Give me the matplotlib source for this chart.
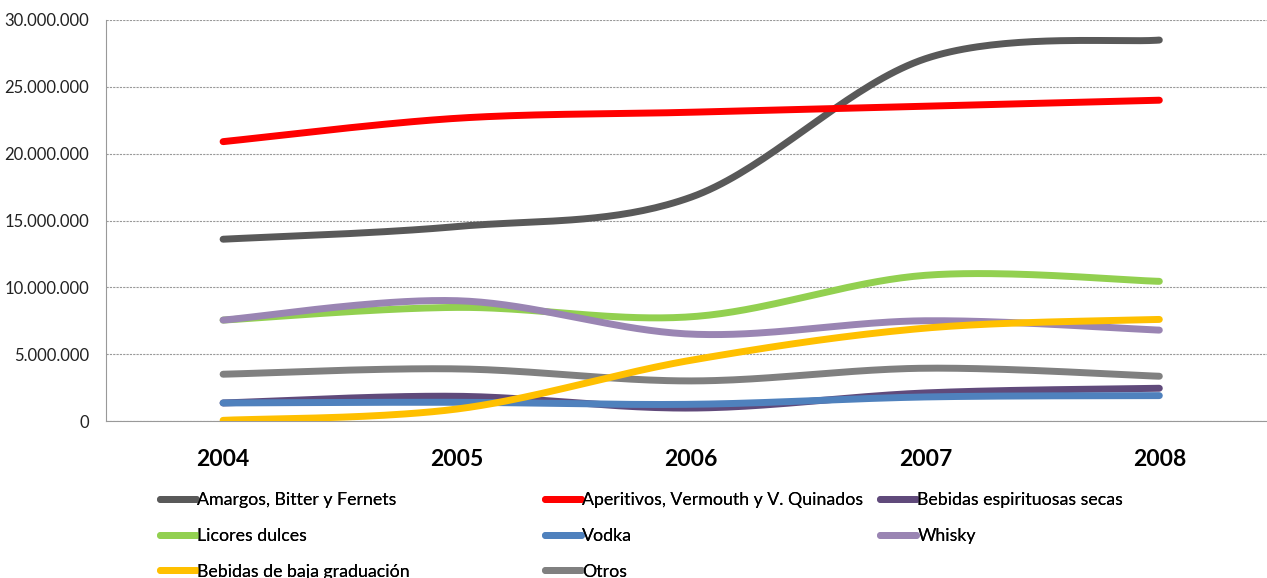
import matplotlib.pyplot as plt
import numpy as np
from matplotlib.ticker import FuncFormatter

years = ["2004", "2005", "2006", "2007", "2008"]

amargos = [13.6e6, 14.55e6, 16.75e6, 27.1e6, 28.5e6]
aperitivos = [20.9e6, 22.65e6, 23.1e6, 23.55e6, 24.0e6]
espirituosas = [1.35e6, 1.85e6, 0.97e6, 2.1e6, 2.45e6]
licores = [7.55e6, 8.5e6, 7.8e6, 10.9e6, 10.45e6]
vodka = [1.35e6, 1.4e6, 1.25e6, 1.8e6, 1.9e6]
whisky = [7.55e6, 9.0e6, 6.5e6, 7.5e6, 6.8e6]
baja = [0.05e6, 0.9e6, 4.55e6, 6.95e6, 7.6e6]
otros = [3.5e6, 3.9e6, 3.0e6, 3.95e6, 3.35e6]

series = [
    ("Amargos, Bitter y Fernets", amargos, "#595959", 2),
    ("Aperitivos, Vermouth y V. Quinados", aperitivos, "#FF0000", 3),
    ("Bebidas espirituosas secas", espirituosas, "#604A7B", 2),
    ("Licores dulces", licores, "#92D050", 2),
    ("Vodka", vodka, "#4F81BD", 3),
    ("Whisky", whisky, "#9A85B3", 3),
    ("Bebidas de baja graduación", baja, "#FFC000", 5),
    ("Otros", otros, "#808080", 4),
]


def smooth(y, n=40):
    # excel-like smoothed line (catmull-rom bezier)
    y = np.asarray(y, dtype=float)
    x = np.arange(len(y), dtype=float)
    px = np.concatenate([[x[0]], x, [x[-1]]])
    py = np.concatenate([[y[0]], y, [y[-1]]])
    xs, ys = [], []
    t = np.linspace(0, 1, n)
    for i in range(len(y) - 1):
        p0x, p1x, p2x, p3x = px[i], px[i + 1], px[i + 2], px[i + 3]
        p0y, p1y, p2y, p3y = py[i], py[i + 1], py[i + 2], py[i + 3]
        c1x, c1y = p1x + (p2x - p0x) / 6, p1y + (p2y - p0y) / 6
        c2x, c2y = p2x - (p3x - p1x) / 6, p2y - (p3y - p1y) / 6
        b = [(1 - t) ** 3, 3 * (1 - t) ** 2 * t, 3 * (1 - t) * t ** 2, t ** 3]
        xs.append(b[0] * p1x + b[1] * c1x + b[2] * c2x + b[3] * p2x)
        ys.append(b[0] * p1y + b[1] * c1y + b[2] * c2y + b[3] * p2y)
    return np.concatenate(xs), np.concatenate(ys)


plt.rcParams['font.family'] = ['Lato', 'DejaVu Sans']

fig = plt.figure(figsize=(12.67, 5.78), dpi=100)
ax = fig.add_axes([0.0837, 0.2716, 0.9163, 0.6938])

lines = []
for label, vals, color, z in series:
    sx, sy = smooth(vals)
    ln, = ax.plot(sx, sy, color=color, lw=5, solid_capstyle='round', label=label, zorder=z)
    lines.append(ln)

ax.set_xlim(-0.5, 4.46)
ax.set_ylim(0, 30e6)
ax.set_yticks(np.arange(0, 30e6 + 1, 5e6))
ax.yaxis.set_major_formatter(FuncFormatter(lambda v, p: f"{int(v):,}".replace(",", ".")))
ax.set_xticks(range(len(years)))
ax.set_xticklabels(years, fontsize=16.5, fontweight='bold')
ax.tick_params(axis='y', length=0, labelsize=12, pad=12, colors='#222222')
ax.tick_params(axis='x', length=0, pad=20)
ax.grid(axis='y', color='#999999', linestyle=(0, (2, 1)), lw=0.8)
ax.set_axisbelow(True)
for s in ['top', 'right']:
    ax.spines[s].set_visible(False)
ax.spines['left'].set_color('#999999')
ax.spines['bottom'].set_color('#999999')

# three legend columns, filled row by row like the original
col_x = [160, 545, 880]
for c in range(3):
    hs = lines[c::3]
    leg = fig.legend(hs, [h.get_label() for h in hs], loc='upper left',
                     bbox_to_anchor=(col_x[c] / 1267, 0.148), frameon=False,
                     fontsize=12.8, handlelength=2.0, handletextpad=0.1,
                     labelspacing=1.1, borderpad=0, borderaxespad=0)
    fig.add_artist(leg)

fig.savefig("out.png", dpi=100)
